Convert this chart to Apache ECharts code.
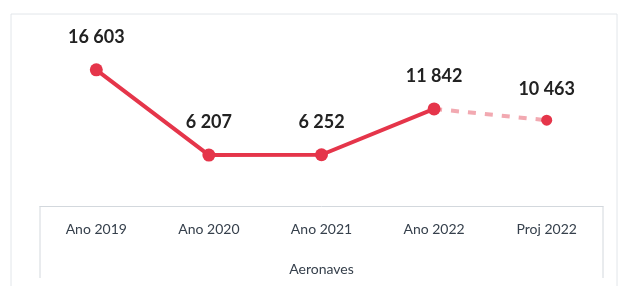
<!DOCTYPE html>
<html>
<head>
<meta charset="utf-8">
<script src="https://cdn.jsdelivr.net/npm/echarts@6/dist/echarts.min.js"></script>
<style>
  html, body { margin: 0; padding: 0; background: #fff; }
  #chart { width: 622px; height: 286px; }
</style>
</head>
<body>
<div id="chart"></div>
<script>
const categories = ['Ano 2019', 'Ano 2020', 'Ano 2021', 'Ano 2022', 'Proj 2022']
const actualValues = [16603, 6207, 6252, 11842, null]
const projValues = [null, null, null, 11842, 10463]

// 16 603 style thousands separator
const fmt = v => String(v).replace(/\B(?=(\d{3})+(?!\d))/g, ' ')

const chart = echarts.init(document.getElementById('chart'))
chart.setOption({
  animation: false,
  textStyle: { fontFamily: 'Lato' },
  grid: { left: 40, right: 19, top: 42, bottom: 80 },
  xAxis: {
    type: 'category',
    data: categories,
    name: 'Aeronaves',
    nameLocation: 'middle',
    nameGap: 56,
    nameTextStyle: { color: '#36404c', fontSize: 14 },
    axisLine: { show: true, lineStyle: { color: '#d3d8dd', width: 1 } },
    axisTick: { show: false },
    axisLabel: { color: '#36404c', fontSize: 14, margin: 16 }
  },
  yAxis: {
    type: 'value',
    min: 0,
    max: 20000,
    show: false
  },
  graphic: [
    // outer chart frame
    { type: 'rect', shape: { x: 11, y: 14, width: 606, height: 290 }, style: { fill: 'none', stroke: '#e2e6ea', lineWidth: 1 } },
    // data table side borders
    { type: 'line', shape: { x1: 40, y1: 206, x2: 40, y2: 278 }, style: { stroke: '#d3d8dd', lineWidth: 1 } },
    { type: 'line', shape: { x1: 603, y1: 206, x2: 603, y2: 278 }, style: { stroke: '#d3d8dd', lineWidth: 1 } }
  ],
  series: [
    {
      name: 'projection',
      type: 'line',
      data: projValues,
      symbol: 'circle',
      symbolSize: 11,
      itemStyle: { color: '#e5354a' },
      lineStyle: { color: '#f2a9b1', width: 4, type: [8, 9] },
      label: {
        show: true,
        position: 'top',
        distance: 17,
        fontSize: 18,
        fontWeight: 'bold',
        color: '#222',
        formatter: p => (p.dataIndex === 4 ? fmt(p.value) : '')
      },
      z: 2
    },
    {
      name: 'Aeronaves',
      type: 'line',
      data: actualValues,
      symbol: 'circle',
      symbolSize: 13,
      itemStyle: { color: '#e5354a' },
      lineStyle: { color: '#e5354a', width: 4 },
      label: {
        show: true,
        position: 'top',
        distance: 17,
        fontSize: 18,
        fontWeight: 'bold',
        color: '#222',
        formatter: p => fmt(p.value)
      },
      z: 3
    }
  ]
})
</script>
</body>
</html>
